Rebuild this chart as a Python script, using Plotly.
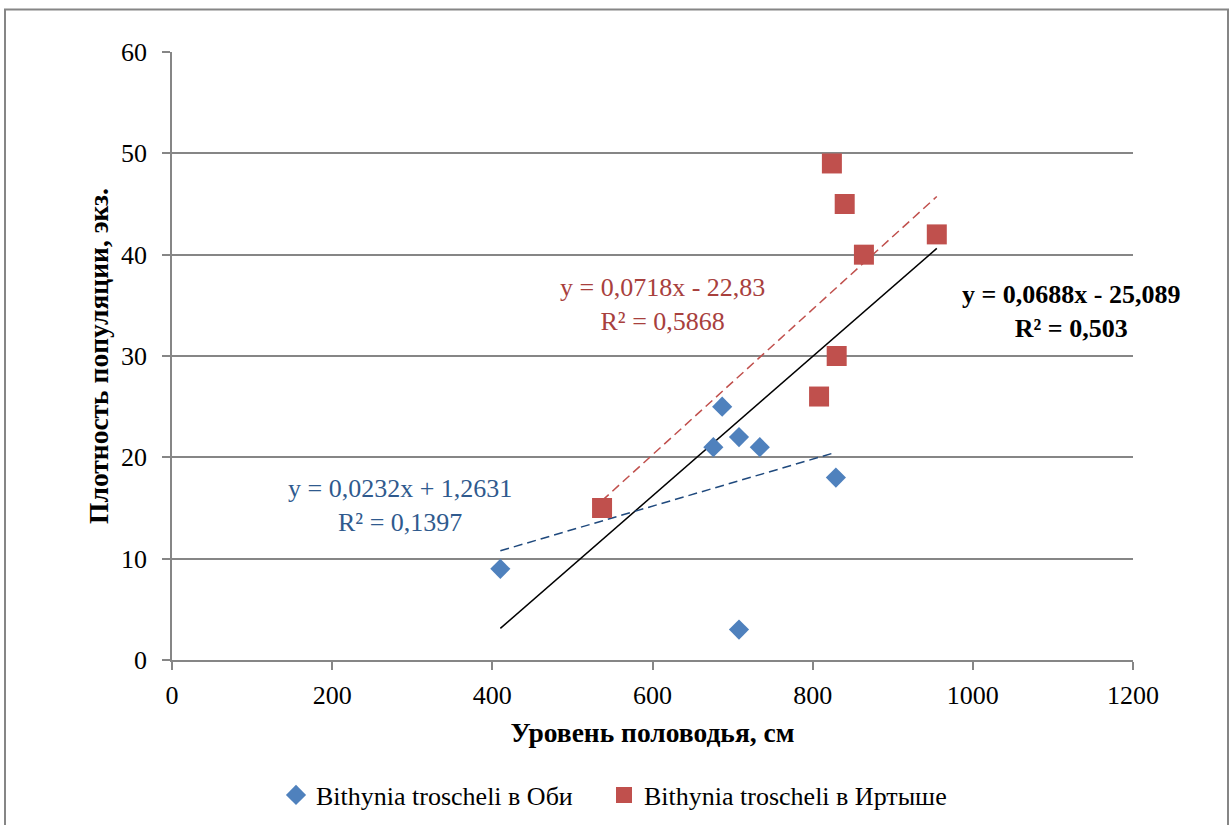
import plotly.graph_objects as go

# Data
ob_x = [410, 676, 687, 708, 734, 829, 708]
ob_y = [9, 21, 25, 22, 21, 18, 3]
irt_x = [537, 824, 840, 864, 955, 830, 808]
irt_y = [15, 49, 45, 40, 42, 30, 26]

# Trendline coefficients (slope, intercept) as printed on the chart
ob_fit = [0.0232, 1.2631]
irt_fit = [0.0718, -22.83]
all_fit = [0.0688, -25.089]

ob_label = ["y = 0,0232x + 1,2631", "R² = 0,1397"]
irt_label = ["y = 0,0718x - 22,83", "R² = 0,5868"]
all_label = ["y = 0,0688x - 25,089", "R² = 0,503"]

name_ob = "Bithynia troscheli в Оби"
name_irt = "Bithynia troscheli в Иртыше"

x_title = "Уровень половодья, см"
y_title = "Плотность популяции, экз."

FONT = "Liberation Serif, Times New Roman, serif"
BLUE = "#4F81BD"
RED = "#C0504D"

W, H = 1229, 825

def line_xy(xs, coef):
    xs2 = [min(xs), max(xs)]
    return xs2, [coef[0] * v + coef[1] for v in xs2]

fig = go.Figure()

all_x = ob_x + irt_x
lx, ly = line_xy(all_x, all_fit)
fig.add_trace(go.Scatter(x=lx, y=ly, mode="lines", line=dict(color="black", width=1.5),
                         showlegend=False, hoverinfo="skip"))
lx, ly = line_xy(ob_x, ob_fit)
fig.add_trace(go.Scatter(x=lx, y=ly, mode="lines", line=dict(color="#1F497D", width=1.5, dash="9px,5px"),
                         showlegend=False, hoverinfo="skip"))
lx, ly = line_xy(irt_x, irt_fit)
fig.add_trace(go.Scatter(x=lx, y=ly, mode="lines", line=dict(color=RED, width=1.5, dash="9px,5px"),
                         showlegend=False, hoverinfo="skip"))

fig.add_trace(go.Scatter(x=ob_x, y=ob_y, mode="markers", name=name_ob, legend="legend",
                         marker=dict(symbol="diamond", size=15.5, color=BLUE)))
fig.add_trace(go.Scatter(x=irt_x, y=irt_y, mode="markers", name=name_irt, legend="legend2",
                         marker=dict(symbol="square", size=20, color=RED)))

leg_common = dict(orientation="h", xref="container", yref="container",
                  xanchor="left", y=1 - 795 / H, yanchor="middle",
                  font=dict(size=26, family=FONT, color="black"), bgcolor="rgba(0,0,0,0)")

fig.update_layout(
    width=W, height=H,
    margin=dict(l=172, r=96, t=52, b=165, autoexpand=False),
    paper_bgcolor="white", plot_bgcolor="white",
    font=dict(family=FONT, size=26, color="black"),
    legend=dict(x=276 / W, **leg_common),
    legend2=dict(x=604 / W, **leg_common),
    showlegend=True,
)

fig.update_xaxes(range=[0, 1200], dtick=200, showgrid=False, zeroline=False,
                 showline=True, linecolor="#868686", linewidth=1.5,
                 ticks="outside", ticklen=8, tickcolor="#868686", tickwidth=1.5,
                 ticklabelstandoff=3,
                 tickfont=dict(size=26, family=FONT),
                 title=dict(text=f"<b>{x_title}</b>", font=dict(size=27.5, family=FONT), standoff=14))
fig.update_yaxes(range=[0, 60], dtick=10, showgrid=True, gridcolor="#868686", gridwidth=1.5,
                 zeroline=False, showline=True, linecolor="#868686", linewidth=1.5,
                 ticks="outside", ticklen=8, tickcolor="#868686", tickwidth=1.5,
                 ticklabelstandoff=10,
                 tickfont=dict(size=26, family=FONT),
                 title=dict(text=f"<b>{y_title}</b>", font=dict(size=27.5, family=FONT), standoff=4))

def add_label(lines, x, y, color, bold=False):
    t = "<br>".join(lines)
    if bold:
        t = f"<b>{t}</b>"
    fig.add_annotation(x=x, y=y, xref="x", yref="y", text=t, showarrow=False,
                       xanchor="center", yanchor="middle", align="center",
                       font=dict(size=26, color=color, family=FONT))

add_label(irt_label, 612, 35.1, "#A8403D")
add_label(ob_label, 285, 15.25, "#2F5A8E")
add_label(all_label, 1122.6, 34.4, "black", bold=True)

# outer chart border
fig.add_shape(type="rect", xref="paper", yref="paper",
              x0=(5 - 172) / 961, x1=(1228 - 172) / 961,
              y0=(660 - 840) / 608, y1=(660 - 9.5) / 608,
              line=dict(color="#868686", width=2), fillcolor="rgba(0,0,0,0)", layer="below")

fig.write_html("out.html")
